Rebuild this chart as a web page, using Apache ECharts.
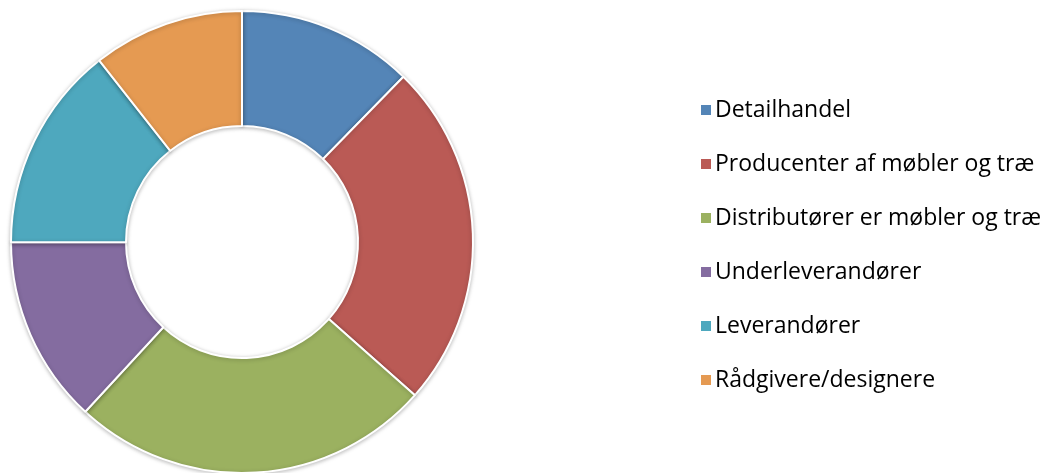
<!DOCTYPE html>
<html><head><meta charset="utf-8">
<script src="https://cdn.jsdelivr.net/npm/echarts@6/dist/echarts.min.js"></script>
<style>html,body{margin:0;padding:0;background:#fff}#c{width:1052px;height:473px}</style>
</head><body><div id="c"></div>
<script>
const categories = ["Detailhandel","Producenter af møbler og træ","Distributører er møbler og træ","Underleverandører","Leverandører","Rådgivere/designere"];
const values = [12.3, 24.2, 25.3, 13.1, 14.4, 10.6];
const colors = ["#5485B7","#BA5A55","#9BB160","#846CA0","#4EA8BE","#E59A52"];

const chart = echarts.init(document.getElementById('c'), null, {renderer:'canvas'});
chart.setOption({
  animation:false,
  color: colors,
  legend:{
    orient:'vertical', left:694, top:93, icon:'rect',
    itemWidth:12, itemHeight:12, itemGap:30,
    textStyle:{fontFamily:'Open Sans', fontSize:23, lineHeight:24, color:'#000', padding:[0,0,0,-2]},
    data: categories
  },
  series:[{
    type:'pie', center:[242,242], radius:[116,231], startAngle:90, clockwise:true,
    label:{show:false}, labelLine:{show:false}, silent:true,
    itemStyle:{borderColor:'#fff', borderWidth:2, shadowBlur:4, shadowColor:'rgba(0,0,0,0.25)', shadowOffsetY:1},
    data: categories.map((n,i)=>({name:n, value:values[i]}))
  }]
});
</script></body></html>
